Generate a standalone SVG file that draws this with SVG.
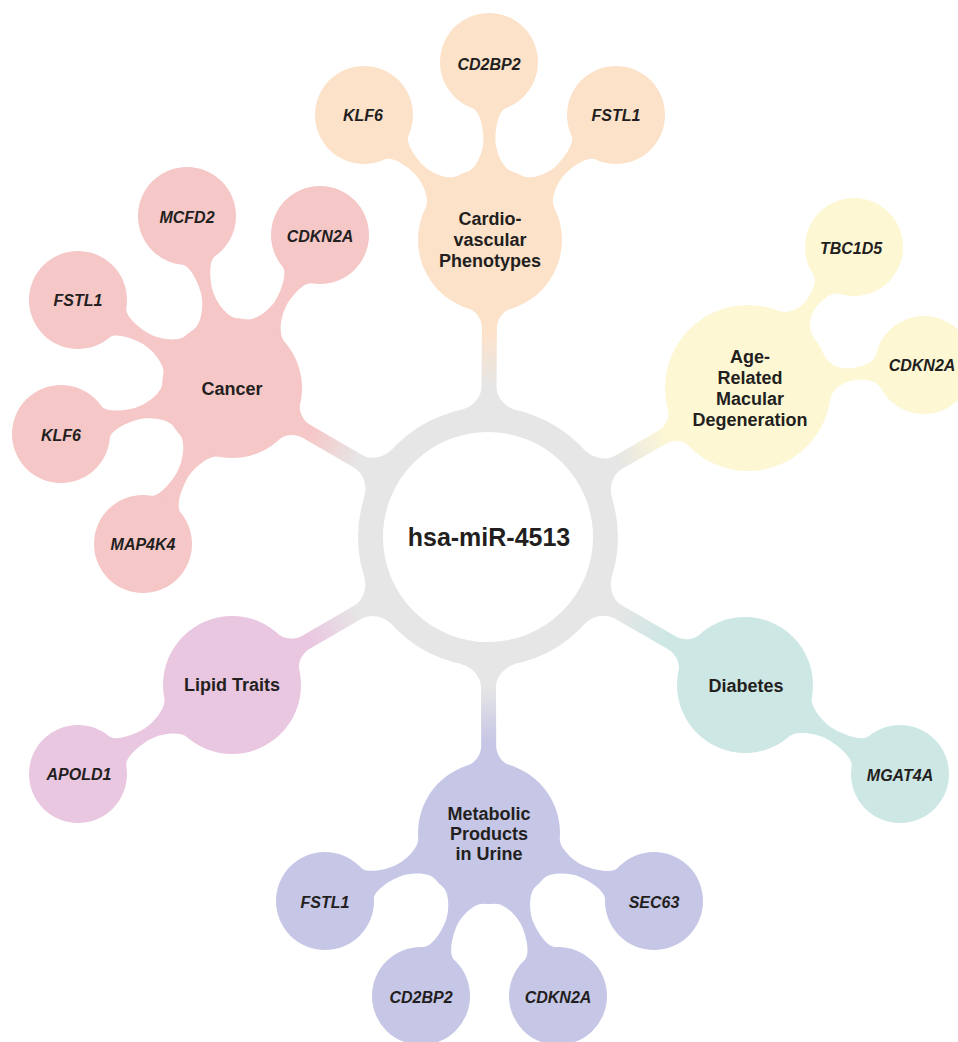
<svg xmlns="http://www.w3.org/2000/svg" width="958" height="1042" viewBox="0 0 958 1042">
<style>
text{font-family:"Liberation Sans",Arial,Helvetica,sans-serif;font-weight:bold;fill:#231f20;text-anchor:middle}
.cat{font-size:18px}
.gene{font-size:16px;font-style:italic}
.hub{font-size:25px}
.pink{fill:#f6c7c7}
.peach{fill:#fde2ca}
.yellow{fill:#fdf7d4}
.teal{fill:#cde7e5}
.lav{fill:#c6c6e6}
.lilac{fill:#eac7e1}
</style>
<defs>
<linearGradient id="g-peach" gradientUnits="userSpaceOnUse" x1="150" y1="0" x2="205" y2="0"><stop offset="0" stop-color="#e6e6e6"/><stop offset="1" stop-color="#fde2ca"/></linearGradient>
<linearGradient id="g-pink" gradientUnits="userSpaceOnUse" x1="150" y1="0" x2="205" y2="0"><stop offset="0" stop-color="#e6e6e6"/><stop offset="1" stop-color="#f6c7c7"/></linearGradient>
<linearGradient id="g-yellow" gradientUnits="userSpaceOnUse" x1="150" y1="0" x2="205" y2="0"><stop offset="0" stop-color="#e6e6e6"/><stop offset="1" stop-color="#fdf7d4"/></linearGradient>
<linearGradient id="g-teal" gradientUnits="userSpaceOnUse" x1="150" y1="0" x2="205" y2="0"><stop offset="0" stop-color="#e6e6e6"/><stop offset="1" stop-color="#cde7e5"/></linearGradient>
<linearGradient id="g-lav" gradientUnits="userSpaceOnUse" x1="150" y1="0" x2="205" y2="0"><stop offset="0" stop-color="#e6e6e6"/><stop offset="1" stop-color="#c6c6e6"/></linearGradient>
<linearGradient id="g-lilac" gradientUnits="userSpaceOnUse" x1="150" y1="0" x2="205" y2="0"><stop offset="0" stop-color="#e6e6e6"/><stop offset="1" stop-color="#eac7e1"/></linearGradient>
</defs>
<rect width="958" height="1042" fill="#ffffff"/>
<g id="connectors">
<g id="main-stems" transform="translate(488,537)">
<path fill="url(#g-peach)" transform="rotate(-89.61)" d="M126.95,-28 C129.53,-16.28 140,-7.5 150,-7.5 L209,-7.5 C217,-7.5 225.89,-13.3 227.83,-20 L227.83,20 C225.89,13.3 217,7.5 209,7.5 L150,7.5 C140,7.5 129.53,16.28 126.95,28Z"/>
<path fill="url(#g-yellow)" transform="rotate(-29.82)" d="M126.95,-28 C129.53,-16.28 140,-7.5 150,-7.5 L200.7,-7.5 C208.7,-7.5 217.46,-13.3 219.15,-20 L219.15,20 C217.46,13.3 208.7,7.5 200.7,7.5 L150,7.5 C140,7.5 129.53,16.28 126.95,28Z"/>
<path fill="url(#g-teal)" transform="rotate(29.94)" d="M126.95,-28 C129.53,-16.28 140,-7.5 150,-7.5 L212.6,-7.5 C220.6,-7.5 229.55,-13.3 231.61,-20 L231.61,20 C229.55,13.3 220.6,7.5 212.6,7.5 L150,7.5 C140,7.5 129.53,16.28 126.95,28Z"/>
<path fill="url(#g-lav)" transform="rotate(89.81)" d="M126.95,-28 C129.53,-16.28 140,-7.5 150,-7.5 L209,-7.5 C217,-7.5 225.91,-13.3 227.88,-20 L227.88,20 C225.91,13.3 217,7.5 209,7.5 L150,7.5 C140,7.5 129.53,16.28 126.95,28Z"/>
<path fill="url(#g-lilac)" transform="rotate(149.97)" d="M126.95,-28 C129.53,-16.28 140,-7.5 150,-7.5 L210.7,-7.5 C218.7,-7.5 227.63,-13.3 229.66,-20 L229.66,20 C227.63,13.3 218.7,7.5 210.7,7.5 L150,7.5 C140,7.5 129.53,16.28 126.95,28Z"/>
<path fill="url(#g-pink)" transform="rotate(-149.8)" d="M126.95,-28 C129.53,-16.28 140,-7.5 150,-7.5 L210.2,-7.5 C218.2,-7.5 227.12,-13.3 229.12,-20 L229.12,20 C227.12,13.3 218.2,7.5 210.2,7.5 L150,7.5 C140,7.5 129.53,16.28 126.95,28Z"/>
</g>
<g id="cancer-links" class="pink" transform="translate(232,388)">
<path transform="rotate(-104.66)" d="M66.45,-22 C69.28,-13.46 87.4,-6 99.4,-6 C111.4,-6 129.06,-9.5 131.84,-17 L131.84,17 C129.06,9.5 111.4,6 99.4,6 C87.4,6 69.28,13.46 66.45,22Z"/>
<path transform="rotate(-60.09)" d="M66.45,-22 C69.28,-13.46 86.75,-6 98.75,-6 C110.75,-6 127.76,-9.5 130.54,-17 L130.54,17 C127.76,9.5 110.75,6 98.75,6 C86.75,6 69.28,13.46 66.45,22Z"/>
<path transform="rotate(-150.26)" d="M66.45,-22 C69.28,-13.46 87.2,-6 99.2,-6 C111.2,-6 128.66,-9.5 131.44,-17 L131.44,17 C128.66,9.5 111.2,6 99.2,6 C87.2,6 69.28,13.46 66.45,22Z"/>
<path transform="rotate(164.94)" d="M66.45,-22 C69.28,-13.46 87.05,-6 99.05,-6 C111.05,-6 128.36,-9.5 131.14,-17 L131.14,17 C128.36,9.5 111.05,6 99.05,6 C87.05,6 69.28,13.46 66.45,22Z"/>
<path transform="rotate(119.71)" d="M66.45,-22 C69.28,-13.46 88.3,-6 100.3,-6 C112.3,-6 130.86,-9.5 133.64,-17 L133.64,17 C130.86,9.5 112.3,6 100.3,6 C88.3,6 69.28,13.46 66.45,22Z"/>
</g>
<g id="cardio-links" class="peach" transform="translate(490,240)">
<path transform="rotate(-90.32)" d="M68.56,-22 C71.31,-13.43 88.5,-6 100.5,-6 C112.5,-6 129.26,-9.5 132.04,-17 L132.04,17 C129.26,9.5 112.5,6 100.5,6 C88.5,6 71.31,13.43 68.56,22Z"/>
<path transform="rotate(-135.23)" d="M68.56,-22 C71.31,-13.43 88.25,-6 100.25,-6 C112.25,-6 128.76,-9.5 131.54,-17 L131.54,17 C128.76,9.5 112.25,6 100.25,6 C88.25,6 71.31,13.43 68.56,22Z"/>
<path transform="rotate(-44.77)" d="M68.56,-22 C71.31,-13.43 88.25,-6 100.25,-6 C112.25,-6 128.76,-9.5 131.54,-17 L131.54,17 C128.76,9.5 112.25,6 100.25,6 C88.25,6 71.31,13.43 68.56,22Z"/>
</g>
<g id="amd-links" class="yellow" transform="translate(748,388)">
<path transform="rotate(-53.07)" d="M80.03,-22 C82.42,-13.32 93.2,-6 105.2,-6 C117.2,-6 127.66,-9.5 130.44,-17 L130.44,17 C127.66,9.5 117.2,6 105.2,6 C93.2,6 82.42,13.32 80.03,22Z"/>
<path transform="rotate(-7.45)" d="M80.03,-22 C82.42,-13.32 93.75,-6 105.75,-6 C117.75,-6 128.76,-9.5 131.54,-17 L131.54,17 C128.76,9.5 117.75,6 105.75,6 C93.75,6 82.42,13.32 80.03,22Z"/>
</g>
<g id="diabetes-links" class="teal" transform="translate(745,685)">
<path transform="rotate(29.87)" d="M64.34,-22 C67.25,-13.48 86.85,-6 98.85,-6 C110.85,-6 129.96,-9.5 132.74,-17 L132.74,17 C129.96,9.5 110.85,6 98.85,6 C86.85,6 67.25,13.48 64.34,22Z"/>
</g>
<g id="lipid-links" class="lilac" transform="translate(232,685)">
<path transform="rotate(149.98)" d="M65.4,-22 C68.27,-13.47 86.95,-6 98.95,-6 C110.95,-6 129.16,-9.5 131.94,-17 L131.94,17 C129.16,9.5 110.95,6 98.95,6 C86.95,6 68.27,13.47 65.4,22Z"/>
</g>
<g id="metabolic-links" class="lav" transform="translate(489,833)">
<path transform="rotate(157.48)" d="M67.51,-22 C70.3,-13.44 87.75,-6 99.75,-6 C111.75,-6 128.76,-9.5 131.54,-17 L131.54,17 C128.76,9.5 111.75,6 99.75,6 C87.75,6 70.3,13.44 67.51,22Z"/>
<path transform="rotate(22.4)" d="M67.51,-22 C70.3,-13.44 88.25,-6 100.25,-6 C112.25,-6 129.76,-9.5 132.54,-17 L132.54,17 C129.76,9.5 112.25,6 100.25,6 C88.25,6 70.3,13.44 67.51,22Z"/>
<path transform="rotate(112.64)" d="M67.51,-22 C70.3,-13.44 87.3,-6 99.3,-6 C111.3,-6 127.86,-9.5 130.64,-17 L130.64,17 C127.86,9.5 111.3,6 99.3,6 C87.3,6 70.3,13.44 67.51,22Z"/>
<path transform="rotate(67.06)" d="M67.51,-22 C70.3,-13.44 87.5,-6 99.5,-6 C111.5,-6 128.26,-9.5 131.04,-17 L131.04,17 C128.26,9.5 111.5,6 99.5,6 C87.5,6 70.3,13.44 67.51,22Z"/>
</g>
</g>
<g id="hub">
<circle cx="488" cy="537" r="117.5" fill="none" stroke="#e6e6e6" stroke-width="25"/>
<text class="hub" x="489" y="546">hsa-miR-4513</text>
</g>
<g id="node-cardio">
<circle class="peach" cx="490" cy="240" r="72"/>
<text class="cat" x="490" y="224.5">Cardio-</text>
<text class="cat" x="490" y="245.5">vascular</text>
<text class="cat" x="490" y="266.5">Phenotypes</text>
</g>
<g id="node-cardio-cd2bp2"><circle class="peach" cx="489" cy="62" r="49"/><text class="gene" x="489" y="69.5">CD2BP2</text></g>
<g id="node-cardio-klf6"><circle class="peach" cx="364" cy="115" r="49"/><text class="gene" x="363" y="121">KLF6</text></g>
<g id="node-cardio-fstl1"><circle class="peach" cx="616" cy="115" r="49"/><text class="gene" x="616" y="121">FSTL1</text></g>
<g id="node-cancer">
<circle class="pink" cx="232" cy="388" r="70"/>
<text class="cat" x="232" y="394.5">Cancer</text>
</g>
<g id="node-cancer-mcfd2"><circle class="pink" cx="187" cy="216" r="49"/><text class="gene" x="187" y="222.5">MCFD2</text></g>
<g id="node-cancer-cdkn2a"><circle class="pink" cx="320" cy="235" r="49"/><text class="gene" x="320" y="241.5">CDKN2A</text></g>
<g id="node-cancer-fstl1"><circle class="pink" cx="78" cy="300" r="49"/><text class="gene" x="78" y="306">FSTL1</text></g>
<g id="node-cancer-klf6"><circle class="pink" cx="61" cy="434" r="49"/><text class="gene" x="61" y="441">KLF6</text></g>
<g id="node-cancer-map4k4"><circle class="pink" cx="143" cy="544" r="49"/><text class="gene" x="143" y="549.5">MAP4K4</text></g>
<g id="node-amd">
<circle class="yellow" cx="748" cy="388" r="83"/>
<text class="cat" x="750" y="363">Age-</text>
<text class="cat" x="750" y="384">Related</text>
<text class="cat" x="750" y="405">Macular</text>
<text class="cat" x="750" y="426">Degeneration</text>
</g>
<g id="node-amd-tbc1d5"><circle class="yellow" cx="854" cy="247" r="49"/><text class="gene" x="851" y="254">TBC1D5</text></g>
<g id="node-amd-cdkn2a"><circle class="yellow" cx="924" cy="365" r="49"/><text class="gene" x="922" y="371">CDKN2A</text></g>
<g id="node-diabetes">
<circle class="teal" cx="745" cy="685" r="68"/>
<text class="cat" x="746" y="691.5">Diabetes</text>
</g>
<g id="node-diabetes-mgat4a"><circle class="teal" cx="900" cy="774" r="49"/><text class="gene" x="900" y="781">MGAT4A</text></g>
<g id="node-lipid">
<circle class="lilac" cx="232" cy="685" r="69"/>
<text class="cat" x="232" y="690.5">Lipid Traits</text>
</g>
<g id="node-lipid-apold1"><circle class="lilac" cx="78" cy="774" r="49"/><text class="gene" x="79" y="780">APOLD1</text></g>
<g id="node-metabolic">
<circle class="lav" cx="489" cy="833" r="71"/>
<text class="cat" x="489" y="819.5">Metabolic</text>
<text class="cat" x="489" y="839.5">Products</text>
<text class="cat" x="489" y="859.5">in Urine</text>
</g>
<g id="node-metabolic-fstl1"><circle class="lav" cx="325" cy="901" r="49"/><text class="gene" x="325" y="907.5">FSTL1</text></g>
<g id="node-metabolic-sec63"><circle class="lav" cx="654" cy="901" r="49"/><text class="gene" x="654" y="907.5">SEC63</text></g>
<g id="node-metabolic-cd2bp2"><circle class="lav" cx="421" cy="996" r="49"/><text class="gene" x="421" y="1002.5">CD2BP2</text></g>
<g id="node-metabolic-cdkn2a"><circle class="lav" cx="558" cy="996" r="49"/><text class="gene" x="558" y="1002.5">CDKN2A</text></g>
</svg>
